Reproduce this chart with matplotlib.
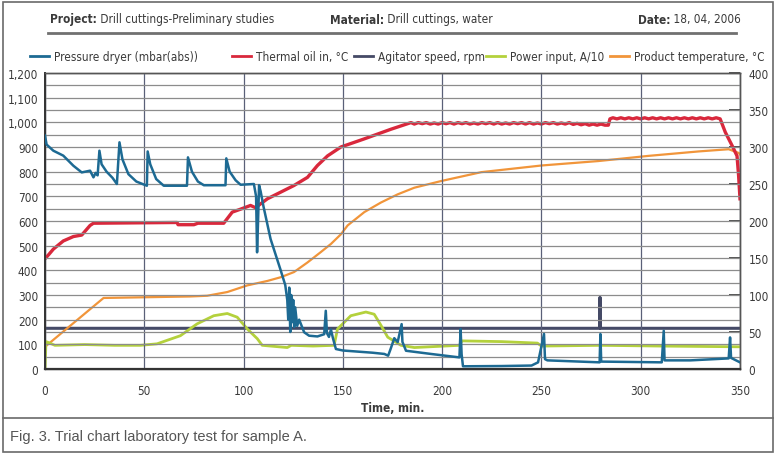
import matplotlib
matplotlib.use('Agg')
import matplotlib.pyplot as plt
from matplotlib.lines import Line2D
from matplotlib.patches import Rectangle

# ---------------- data ----------------
x_ticks = [0, 50, 100, 150, 200, 250, 300, 350]
left_ticks = [0, 100, 200, 300, 400, 500, 600, 700, 800, 900, 1000, 1100, 1200]
left_tick_labels = ['0', '100', '200', '300', '400', '500', '600', '700', '800', '900',
                    '1,000', '1,100', '1,200']
right_ticks = [0, 50, 100, 150, 200, 250, 300, 350, 400]

# Pressure dryer, mbar(abs) (left axis)
pressure_t = [0, 0.8, 4.2, 9.2, 14.3, 18.5, 22.7, 24.4, 25.5, 26.5, 27.4, 28.5, 31, 34, 36.2,
              37.5, 39, 42, 46, 51.3, 51.7, 53, 56, 59.8, 71.5, 72, 74, 77, 80, 90.9, 91.3,
              93, 96, 98.5, 105.2, 106.3, 106.8, 107.3, 107.8, 108.6, 110, 113.6, 118.7,
              121, 122, 122.5, 123, 123.5, 124, 124.5, 125, 125.5, 126, 127, 128, 130.5,
              133, 137.2, 140.6, 141.4, 142, 143, 144, 145, 146.5, 150, 155, 165, 170.9,
              172.8, 174, 175.9, 177.6, 179.6, 180, 181.8, 194.4, 208.7, 209.3, 209.8,
              210.5, 230, 245, 248.3, 251.3, 251.8, 253, 279.3, 279.7, 280.1, 310.6, 311.6,
              312, 325, 344.3, 345, 345.5, 350]
pressure_v = [946, 910, 885, 865, 824, 797, 804, 777, 795, 785, 885, 830, 800, 775, 750,
              919, 850, 790, 760, 743, 882, 830, 770, 743, 743, 858, 800, 760, 745, 745, 854,
              800, 765, 747, 750, 700, 473, 600, 745, 720, 660, 527, 400,
              340, 280, 200, 330, 150, 300, 190, 280, 170, 250, 175, 200, 149,
              135, 132, 141, 236, 145, 130, 160, 125, 81, 75, 72, 66, 61,
              54, 80, 125, 109, 182, 110, 74, 61, 47, 162, 60,
              11, 12, 14, 27, 142, 40, 35, 27, 142, 30, 27, 155,
              35, 35, 43, 128, 45, 27]

# Thermal oil in, degC (right axis)
oil_t = [0, 2, 4.2, 9.2, 14.3, 18.5, 22.7, 24.4, 66.5, 67, 75, 77, 90, 94.3, 98.5, 103.5,
         106, 108, 112, 118.7, 125.4, 132.2, 137.2, 142.3, 149, 160.8, 174.2, 184.3,
         186, 188, 190, 192, 194, 196, 198, 200, 202, 204, 206, 208, 210, 212, 214, 216,
         218, 220, 222, 224, 226, 228, 230, 232, 234, 236, 238, 240, 242, 244, 246, 248,
         250, 252, 254, 256, 258, 260, 262, 264, 266, 268, 270, 272, 274, 276, 278, 280,
         282, 283.7, 284.5, 286, 288, 290, 292, 294, 296, 298, 300, 302, 304, 306, 308,
         310, 312, 314, 316, 318, 320, 322, 324, 326, 328, 330, 332, 334, 336, 338, 340,
         342.6, 346, 348.5, 349.3, 350]
oil_v = [149, 155, 162, 173, 179, 181, 194, 197, 198, 195, 195, 197, 197, 212, 216, 221,
         218, 222, 230, 239, 248, 259, 275, 288, 300, 311, 324, 333,
         331, 333, 331.5, 333, 331, 332.5, 331, 333, 331.5, 333, 331, 333, 331.5, 333, 331, 332.5,
         331, 333, 331.5, 333, 331, 333, 331, 332.5, 331, 333, 331.5, 333, 331, 333, 331, 332.5,
         331, 333, 331.5, 333, 331, 332.5, 331, 333, 330.5, 332, 330, 331.5, 329.5, 331, 329.5, 331,
         329.5, 329.5, 338, 339.5, 338, 339.5, 338, 339.5, 338, 339.5, 338, 339.5, 338, 339.5, 338,
         339.5, 338, 339.5, 338, 339.5, 338, 339.5, 338, 339.5, 338, 339.5, 338, 339.5, 338, 339.5, 338,
         320, 302, 288, 261, 230]

# Agitator speed, rpm (right axis)
agitator_t = [0, 279.4, 279.5, 279.6, 350]
agitator_v = [55, 55, 97, 55, 55]

# Power input, A/10 (right axis)
power_t = [0, 0.5, 1.5, 5, 20, 35, 48, 56.4, 68.2, 76.6, 85, 91.8, 96.8, 101.9, 106.9, 109.4,
           122, 124, 135, 145.6, 147.3, 154, 161.6, 165.8, 169.2, 172.6, 179.3, 186, 208.7,
           210, 230, 248, 250, 280, 310, 350]
power_v = [0, 37, 36, 32, 33, 32, 32, 34, 45, 61, 72, 75, 70, 54, 41, 32,
           29, 32, 31, 32, 54, 72, 77, 74, 59, 43, 32, 29, 32,
           38, 37, 35, 31, 32, 31, 30]

# Product temperature, degC (right axis)
product_t = [0, 29.5, 73, 81.7, 91.8, 101.9, 112, 118.7, 125.4, 132.2, 138.9, 144, 149,
             152.4, 160.8, 169.2, 177.6, 186, 199.5, 219.7, 250, 278.6, 303.9, 329.1,
             344.3, 349.3, 350]
product_v = [30, 96, 98, 99, 104, 113, 119, 124, 131, 144, 158, 169, 182,
             194, 212, 225, 236, 245, 254, 266, 275, 281, 288, 294,
             297, 292, 290]

legend_labels = ['Pressure dryer (mbar(abs))', 'Thermal oil in, \u00b0C', 'Agitator speed, rpm',
                 'Power input, A/10', 'Product temperature, \u00b0C']
header_bold = ['Project:', 'Material:', 'Date:']
header_text = [' Drill cuttings-Preliminary studies', ' Drill cuttings, water', ' 18, 04, 2006']
caption = 'Fig. 3. Trial chart laboratory test for sample A.'

# ---------------- style ----------------
C_BLUE = '#1d6a93'
C_RED = '#d9283c'
C_AGI = '#454a66'
C_GREEN = '#b4d13c'
C_ORANGE = '#f1953a'
C_TEXT = '#3a3a3a'
colors = [C_BLUE, C_RED, C_AGI, C_GREEN, C_ORANGE]

plt.rcParams['font.family'] = ['DejaVu Sans']
plt.rcParams['font.stretch'] = 'condensed'
FS = 8.5
FL = 8.5

W, H = 776, 456
fig = plt.figure(figsize=(W / 100, H / 100), dpi=100)


def fx(x):
    return x / W


def fy(y):
    return 1 - y / H


ax = fig.add_axes([fx(45), fy(370), fx(740) - fx(45), fy(74) - fy(370)])
ax2 = ax.twinx()

ax.set_xlim(0, 350)
ax.set_ylim(0, 1200)
ax2.set_ylim(0, 400)

ax.set_xticks(x_ticks)
ax.set_xticklabels([str(v) for v in x_ticks], fontsize=FS, color=C_TEXT)
ax.set_yticks(left_ticks)
ax.set_yticklabels(left_tick_labels, fontsize=FS, color=C_TEXT)
ax.set_yticks(range(50, 1200, 100), minor=True)
ax.tick_params(axis='y', which='both', length=0, pad=5)
ax.tick_params(axis='x', which='both', length=0, pad=11)

ax.grid(axis='y', which='both', color='#8c8c8c', linewidth=0.9)
ax.grid(axis='x', which='major', color='#5a6078', linewidth=0.9)
ax.set_axisbelow(True)

ax2.set_yticks(right_ticks)
ax2.set_yticklabels([str(v) for v in right_ticks], fontsize=FS, color=C_TEXT)
ax2.tick_params(axis='y', direction='in', length=8, width=1.2, color='#333333', pad=6)

for a in (ax, ax2):
    for s in a.spines.values():
        s.set_color('#555555')
        s.set_linewidth(1.0)
ax.spines['bottom'].set_color('#333333')
ax.spines['bottom'].set_linewidth(1.6)
ax.spines['left'].set_color('#333333')
ax.spines['left'].set_linewidth(1.4)

ax.set_xlabel('Time, min.', fontsize=FS, fontweight='bold', color=C_TEXT, labelpad=3)

# series
ax2.plot(agitator_t, agitator_v, color=C_AGI, linewidth=2.2, zorder=2)
ax2.plot(product_t, product_v, color=C_ORANGE, linewidth=1.6, zorder=3)
ax2.plot(power_t, power_v, color=C_GREEN, linewidth=2.0, zorder=3)
ax2.plot(oil_t, oil_v, color=C_RED, linewidth=2.4, zorder=4)
ax.plot(pressure_t, pressure_v, color=C_BLUE, linewidth=1.8, zorder=3)
ax.set_zorder(ax2.get_zorder() + 1)
ax.patch.set_visible(False)

# legend (manual)
leg_x = [30, 232, 354, 486, 610]
leg_y = 57
for lx, lab, col in zip(leg_x, legend_labels, colors):
    fig.add_artist(Line2D([fx(lx), fx(lx + 19)], [fy(leg_y), fy(leg_y)], color=col,
                          linewidth=2, transform=fig.transFigure))
    fig.text(fx(lx + 24), fy(leg_y), lab, fontsize=FL, color=C_TEXT, va='center', ha='left')

# header
renderer = fig.canvas.get_renderer()
head_x = [50, 330, 638]
head_y = 20
for hx, b, t in zip(head_x, header_bold, header_text):
    tb = fig.text(fx(hx), fy(head_y), b, fontsize=FL, fontweight='bold', color=C_TEXT,
                  va='center', ha='left')
    bb = tb.get_window_extent(renderer)
    fig.text(bb.x1 / W, fy(head_y), t, fontsize=FL, color=C_TEXT, va='center', ha='left')

fig.add_artist(Line2D([fx(48), fx(736)], [fy(34), fy(34)], color='#707070', linewidth=2.0,
                      transform=fig.transFigure))

# outer frame and caption
fig.add_artist(Rectangle((fx(3), fy(453)), fx(773) - fx(3), fy(3) - fy(453), fill=False,
                         edgecolor='#6a6a6a', linewidth=1.2, transform=fig.transFigure))
fig.add_artist(Line2D([fx(3), fx(773)], [fy(419), fy(419)], color='#6a6a6a', linewidth=1.2,
                      transform=fig.transFigure))
fig.text(fx(10), fy(437), caption, fontsize=10.5, color='#555555', va='center', ha='left',
         family=['Liberation Sans', 'DejaVu Sans'], stretch='normal')

fig.savefig('out.png', dpi=100)
